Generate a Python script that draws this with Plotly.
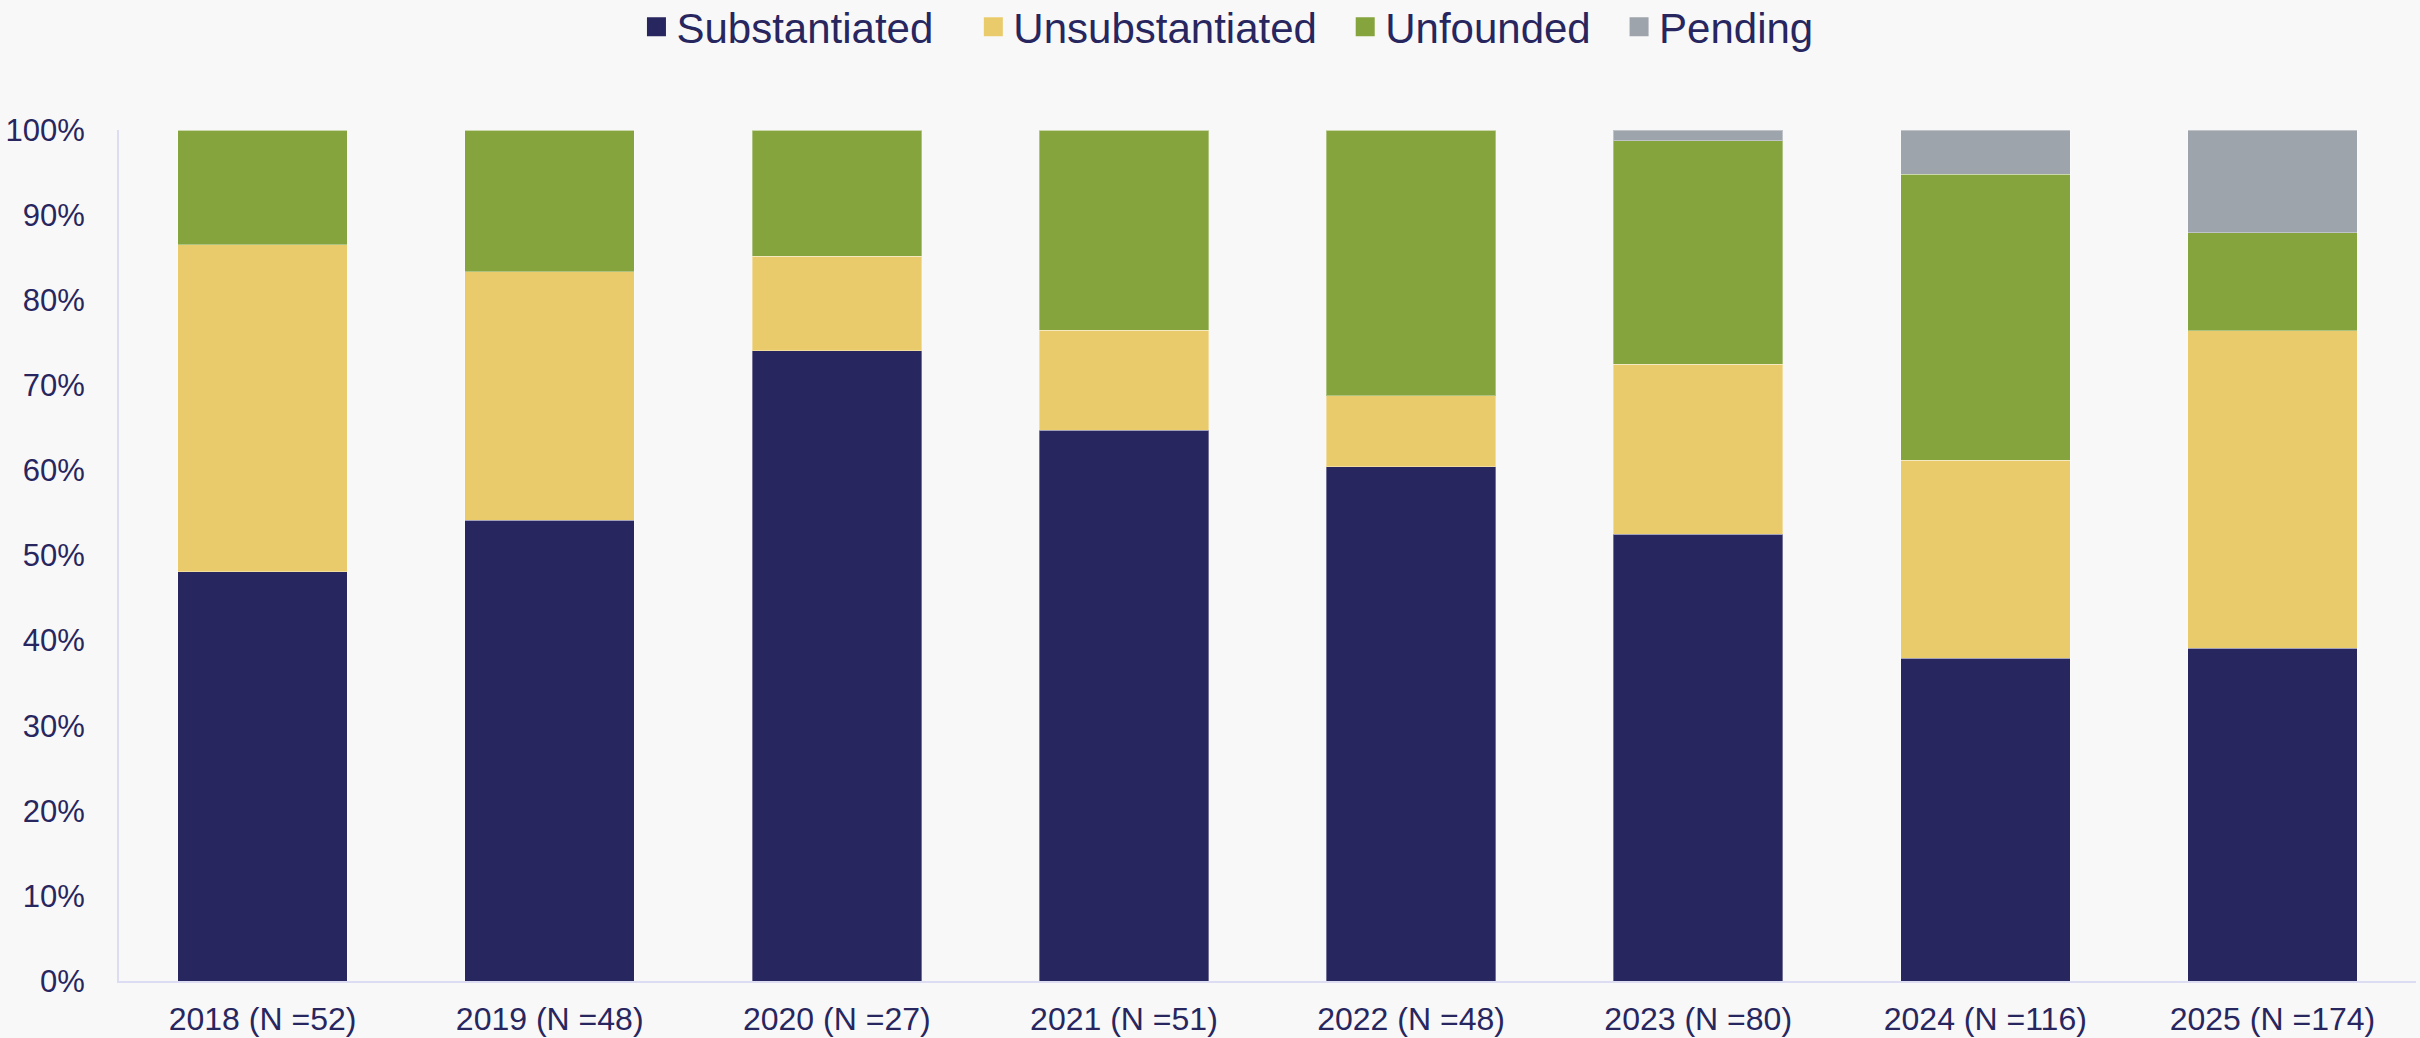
import plotly.graph_objects as go

years = ["2018", "2019", "2020", "2021", "2022", "2023", "2024", "2025"]
totals = [52, 48, 27, 51, 48, 80, 116, 174]
categories = [f"{y} (N ={n})" for y, n in zip(years, totals)]

substantiated = [25, 26, 20, 33, 29, 42, 44, 68]
unsubstantiated = [20, 14, 3, 6, 4, 16, 27, 65]
unfounded = [7, 8, 4, 12, 15, 21, 39, 20]
pending = [0, 0, 0, 0, 0, 1, 6, 21]

series_names = ["Substantiated", "Unsubstantiated", "Unfounded", "Pending"]
series_values = [substantiated, unsubstantiated, unfounded, pending]
series_colors = ["#28265f", "#eacb6c", "#85a43d", "#9ea4ab"]
legend_pad = [3, 2, 2, 0]

TEXT = "#28265f"
FONT = "Liberation Sans, Arial, sans-serif"
NBSP = "\u00a0"

fig = go.Figure()
for name, vals, col in zip(series_names, series_values, series_colors):
    fig.add_trace(go.Bar(
        x=categories, y=vals, name=name, showlegend=False, legendgroup=name,
        marker=dict(color=col, line=dict(width=1, color="rgba(255,255,255,0.35)")),
    ))
for name, col, pad in zip(series_names, series_colors, legend_pad):
    fig.add_trace(go.Scatter(
        x=[None], y=[None], mode="markers", name=name + NBSP * pad, legendgroup=name,
        showlegend=True,
        marker=dict(symbol="square", size=22, color=col, line=dict(width=3, color=col)),
        hoverinfo="skip",
    ))

fig.update_layout(
    width=2420, height=1038,
    barmode="stack", barnorm="fraction", bargap=0.41,
    paper_bgcolor="#f8f8f8", plot_bgcolor="#f8f8f8",
    margin=dict(l=119, r=4, t=130, b=57),
    font=dict(family=FONT, color=TEXT, size=31),
    showlegend=True,
    legend=dict(
        orientation="h", xref="container", yref="container",
        x=0.263, xanchor="left", y=0.974, yanchor="middle",
        font=dict(size=42, color=TEXT, family=FONT),
        bgcolor="rgba(0,0,0,0)", traceorder="normal", itemsizing="trace",
    ),
    xaxis=dict(
        showline=True, linecolor="#dcdcf2", linewidth=2, automargin=False,
        ticks="", showgrid=False, ticklabelstandoff=9,
        tickfont=dict(size=32, color=TEXT, family=FONT),
    ),
    yaxis=dict(
        range=[0, 1], dtick=0.1, tickformat=".0%", automargin=False,
        showline=True, linecolor="#dcdcf2", linewidth=2,
        ticks="", showgrid=False, zeroline=False, ticklabelstandoff=26,
        tickfont=dict(size=31, color=TEXT, family=FONT),
    ),
)

fig.write_html("out.html", config={"displayModeBar": False},
               post_script="document.body.style.margin='0';")
